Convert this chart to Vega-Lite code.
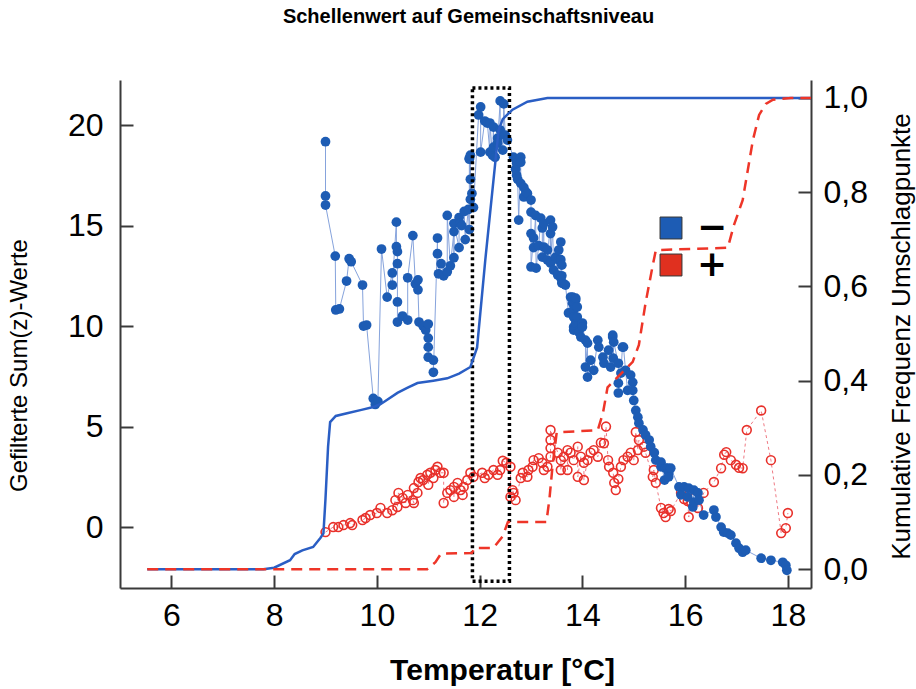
{
  "$schema": "https://vega.github.io/schema/vega-lite/v6.json",
  "width": 691,
  "height": 508,
  "autosize": {"type": "none"},
  "padding": {"left": 120, "top": 80, "right": 105, "bottom": 101},
  "background": "white",
  "title": {"text": "Schellenwert auf Gemeinschaftsniveau", "font": "Liberation Sans", "fontSize": 20, "fontWeight": "bold", "color": "#000", "anchor": "middle", "offset": 50, "dx": 3},
  "config": {
    "view": {"stroke": null},
    "axis": {"grid": false, "domainColor": "#3a3a3a", "domainWidth": 2, "tickColor": "#3a3a3a", "tickWidth": 2, "tickSize": -13, "labelFont": "Liberation Sans", "labelFontSize": 32, "labelColor": "#000", "titleFont": "Liberation Sans", "titleColor": "#000", "labelOverlap": false, "labelFlush": false}
  },
  "datasets": {
    "minus": [
      {"x":9.0,"y":19.17},{"x":9.0,"y":16.47},{"x":9.0,"y":16.02},{"x":9.19,"y":13.48},{"x":9.2,"y":10.8},{"x":9.27,"y":10.85},{"x":9.41,"y":12.24},{"x":9.46,"y":13.35},{"x":9.5,"y":13.2},{"x":9.72,"y":12.04},{"x":9.74,"y":10.0},{"x":9.8,"y":10.05},{"x":9.93,"y":6.4},{"x":9.97,"y":6.1},{"x":10.02,"y":6.25},{"x":10.09,"y":13.83},{"x":10.2,"y":11.44},{"x":10.3,"y":12.64},{"x":10.3,"y":12.04},{"x":10.38,"y":15.17},{"x":10.38,"y":13.95},{"x":10.4,"y":13.7},{"x":10.4,"y":13.1},{"x":10.4,"y":11.2},{"x":10.4,"y":10.2},{"x":10.5,"y":10.5},{"x":10.6,"y":10.3},{"x":10.6,"y":12.4},{"x":10.7,"y":14.5},{"x":10.75,"y":12.1},{"x":10.8,"y":12.3},{"x":10.8,"y":11.8},{"x":10.82,"y":10.2},{"x":10.9,"y":10.0},{"x":10.95,"y":9.8},{"x":11.0,"y":10.1},{"x":11.0,"y":9.4},{"x":11.0,"y":8.95},{"x":11.0,"y":8.45},{"x":11.1,"y":8.3},{"x":11.1,"y":7.7},{"x":11.18,"y":14.38},{"x":11.18,"y":13.6},{"x":11.2,"y":12.6},{"x":11.25,"y":13.1},{"x":11.3,"y":12.5},{"x":11.37,"y":12.7},{"x":11.37,"y":15.5},{"x":11.43,"y":13.0},{"x":11.5,"y":14.7},{"x":11.5,"y":13.4},{"x":11.5,"y":15.1},{"x":11.6,"y":13.9},{"x":11.6,"y":15.4},{"x":11.62,"y":15.1},{"x":11.65,"y":15.0},{"x":11.7,"y":15.7},{"x":11.72,"y":14.3},{"x":11.78,"y":15.8},{"x":11.8,"y":14.8},{"x":11.8,"y":18.3},{"x":11.8,"y":18.35},{"x":11.82,"y":16.3},{"x":11.82,"y":18.5},{"x":11.82,"y":17.3},{"x":11.85,"y":16.6},{"x":11.88,"y":15.9},{"x":11.98,"y":20.5},{"x":12.02,"y":20.9},{"x":12.02,"y":18.65},{"x":12.1,"y":20.2},{"x":12.15,"y":20.1},{"x":12.2,"y":18.65},{"x":12.2,"y":20.1},{"x":12.25,"y":18.5},{"x":12.27,"y":19.9},{"x":12.27,"y":18.9},{"x":12.3,"y":18.4},{"x":12.35,"y":19.35},{"x":12.35,"y":19.1},{"x":12.4,"y":21.2},{"x":12.4,"y":19.75},{"x":12.45,"y":18.75},{"x":12.47,"y":21.05},{"x":12.5,"y":19.5},{"x":12.54,"y":19.25},{"x":12.66,"y":18.4},{"x":12.7,"y":17.8},{"x":12.72,"y":18.1},{"x":12.72,"y":17.5},{"x":12.74,"y":17.3},{"x":12.76,"y":15.27},{"x":12.8,"y":18.4},{"x":12.8,"y":18.15},{"x":12.8,"y":17.1},{"x":12.86,"y":16.9},{"x":12.86,"y":16.42},{"x":12.9,"y":16.67},{"x":12.93,"y":16.6},{"x":13.0,"y":16.27},{"x":13.0,"y":15.67},{"x":13.0,"y":14.6},{"x":13.0,"y":12.94},{"x":13.05,"y":14.38},{"x":13.05,"y":13.9},{"x":13.09,"y":15.5},{"x":13.1,"y":12.88},{"x":13.15,"y":14.0},{"x":13.19,"y":15.37},{"x":13.22,"y":14.88},{"x":13.22,"y":13.43},{"x":13.25,"y":15.1},{"x":13.25,"y":13.93},{"x":13.32,"y":13.78},{"x":13.32,"y":13.28},{"x":13.38,"y":15.27},{"x":13.38,"y":14.6},{"x":13.38,"y":13.13},{"x":13.42,"y":14.93},{"x":13.44,"y":12.78},{"x":13.48,"y":13.43},{"x":13.52,"y":12.54},{"x":13.54,"y":13.78},{"x":13.54,"y":13.28},{"x":13.58,"y":14.18},{"x":13.58,"y":13.3},{"x":13.58,"y":12.39},{"x":13.6,"y":13.03},{"x":13.6,"y":12.14},{"x":13.6,"y":12.5},{"x":13.64,"y":12.1},{"x":13.67,"y":12.04},{"x":13.73,"y":10.65},{"x":13.77,"y":11.44},{"x":13.81,"y":11.14},{"x":13.81,"y":11.44},{"x":13.83,"y":10.8},{"x":13.83,"y":10.45},{"x":13.83,"y":9.95},{"x":13.83,"y":9.8},{"x":13.87,"y":11.3},{"x":13.87,"y":11.39},{"x":13.87,"y":10.15},{"x":13.9,"y":10.95},{"x":13.9,"y":10.45},{"x":13.93,"y":9.8},{"x":13.93,"y":9.7},{"x":13.97,"y":9.45},{"x":14.0,"y":10.15},{"x":14.0,"y":9.95},{"x":14.06,"y":9.3},{"x":14.06,"y":7.96},{"x":14.1,"y":9.15},{"x":14.1,"y":7.46},{"x":14.16,"y":8.3},{"x":14.22,"y":7.8},{"x":14.3,"y":9.3},{"x":14.32,"y":8.95},{"x":14.4,"y":8.45},{"x":14.42,"y":8.15},{"x":14.51,"y":8.8},{"x":14.55,"y":7.96},{"x":14.59,"y":9.45},{"x":14.59,"y":9.55},{"x":14.6,"y":8.4},{"x":14.61,"y":9.2},{"x":14.7,"y":8.15},{"x":14.7,"y":7.16},{"x":14.7,"y":6.67},{"x":14.75,"y":7.66},{"x":14.78,"y":8.95},{"x":14.8,"y":8.95},{"x":14.84,"y":7.8},{"x":14.88,"y":6.8},{"x":14.94,"y":7.56},{"x":14.98,"y":7.2},{"x":14.98,"y":6.8},{"x":15.0,"y":6.3},{"x":15.04,"y":5.8},{"x":15.08,"y":5.47},{"x":15.1,"y":5.17},{"x":15.18,"y":4.83},{"x":15.23,"y":4.58},{"x":15.3,"y":4.33},{"x":15.33,"y":4.0},{"x":15.4,"y":3.7},{"x":15.43,"y":3.33},{"x":15.53,"y":3.0},{"x":15.53,"y":3.23},{"x":15.6,"y":2.34},{"x":15.62,"y":2.93},{"x":15.66,"y":2.93},{"x":15.68,"y":2.7},{"x":15.68,"y":2.5},{"x":15.72,"y":2.93},{"x":15.88,"y":2.0},{"x":15.92,"y":1.6},{"x":15.98,"y":2.0},{"x":16.05,"y":1.5},{"x":16.07,"y":1.94},{"x":16.15,"y":1.0},{"x":16.17,"y":1.84},{"x":16.17,"y":1.24},{"x":16.25,"y":1.7},{"x":16.27,"y":1.34},{"x":16.36,"y":0.6},{"x":16.56,"y":0.85},{"x":16.6,"y":0.5},{"x":16.7,"y":0.0},{"x":16.75,"y":-0.25},{"x":16.83,"y":-0.3},{"x":16.89,"y":-0.4},{"x":16.99,"y":-0.8},{"x":17.05,"y":-1.05},{"x":17.12,"y":-1.25},{"x":17.18,"y":-1.15},{"x":17.48,"y":-1.55},{"x":17.67,"y":-1.65},{"x":17.9,"y":-1.75},{"x":17.96,"y":-1.9},{"x":17.98,"y":-2.15}
    ],
    "plus": [
      {"x":9.0,"y":-0.25},{"x":9.15,"y":0.0},{"x":9.25,"y":0.0},{"x":9.35,"y":0.1},{"x":9.48,"y":0.2},{"x":9.52,"y":0.1},{"x":9.72,"y":0.35},{"x":9.78,"y":0.45},{"x":9.87,"y":0.6},{"x":10.0,"y":0.7},{"x":10.07,"y":0.95},{"x":10.2,"y":0.7},{"x":10.3,"y":0.84},{"x":10.36,"y":1.34},{"x":10.4,"y":1.0},{"x":10.42,"y":1.7},{"x":10.5,"y":1.45},{"x":10.56,"y":1.2},{"x":10.6,"y":1.6},{"x":10.7,"y":1.34},{"x":10.72,"y":1.2},{"x":10.72,"y":1.94},{"x":10.79,"y":1.7},{"x":10.81,"y":2.24},{"x":10.85,"y":2.44},{"x":10.9,"y":2.34},{"x":10.98,"y":2.6},{"x":11.0,"y":2.1},{"x":11.04,"y":2.7},{"x":11.1,"y":2.44},{"x":11.14,"y":2.84},{"x":11.18,"y":3.0},{"x":11.24,"y":2.7},{"x":11.3,"y":2.7},{"x":11.3,"y":1.2},{"x":11.37,"y":1.7},{"x":11.43,"y":1.84},{"x":11.5,"y":2.0},{"x":11.5,"y":1.5},{"x":11.57,"y":2.2},{"x":11.63,"y":1.84},{"x":11.67,"y":1.6},{"x":11.69,"y":2.0},{"x":11.76,"y":2.34},{"x":11.82,"y":2.7},{"x":11.88,"y":2.5},{"x":12.05,"y":2.7},{"x":12.1,"y":2.44},{"x":12.17,"y":2.6},{"x":12.27,"y":2.84},{"x":12.35,"y":2.6},{"x":12.4,"y":2.84},{"x":12.45,"y":3.3},{"x":12.52,"y":3.2},{"x":12.6,"y":3.0},{"x":12.6,"y":1.5},{"x":12.64,"y":1.84},{"x":12.66,"y":1.7},{"x":12.7,"y":1.34},{"x":12.8,"y":2.44},{"x":12.84,"y":2.7},{"x":12.93,"y":2.5},{"x":12.95,"y":2.84},{"x":13.03,"y":3.0},{"x":13.05,"y":3.33},{"x":13.15,"y":3.43},{"x":13.22,"y":3.2},{"x":13.25,"y":2.84},{"x":13.32,"y":3.0},{"x":13.38,"y":3.5},{"x":13.38,"y":3.93},{"x":13.38,"y":4.33},{"x":13.38,"y":4.83},{"x":13.52,"y":3.7},{"x":13.58,"y":3.33},{"x":13.58,"y":2.84},{"x":13.64,"y":3.5},{"x":13.71,"y":3.83},{"x":13.71,"y":2.84},{"x":13.77,"y":3.7},{"x":13.83,"y":3.33},{"x":13.91,"y":4.0},{"x":13.91,"y":2.5},{"x":13.97,"y":3.5},{"x":14.03,"y":3.2},{"x":14.03,"y":2.34},{"x":14.1,"y":3.33},{"x":14.16,"y":3.7},{"x":14.22,"y":3.83},{"x":14.3,"y":3.5},{"x":14.36,"y":4.2},{"x":14.42,"y":4.17},{"x":14.46,"y":5.0},{"x":14.5,"y":3.33},{"x":14.52,"y":3.0},{"x":14.6,"y":2.7},{"x":14.62,"y":2.2},{"x":14.65,"y":1.84},{"x":14.7,"y":2.4},{"x":14.75,"y":3.0},{"x":14.8,"y":3.33},{"x":14.88,"y":3.5},{"x":14.94,"y":3.7},{"x":15.0,"y":3.33},{"x":15.04,"y":4.73},{"x":15.08,"y":3.83},{"x":15.1,"y":4.33},{"x":15.2,"y":4.0},{"x":15.23,"y":3.7},{"x":15.37,"y":2.5},{"x":15.39,"y":2.84},{"x":15.43,"y":2.2},{"x":15.53,"y":0.95},{"x":15.58,"y":0.7},{"x":15.62,"y":0.5},{"x":15.68,"y":0.9},{"x":15.72,"y":0.8},{"x":15.92,"y":1.7},{"x":15.98,"y":1.4},{"x":16.05,"y":1.3},{"x":16.07,"y":0.5},{"x":16.12,"y":1.2},{"x":16.2,"y":1.5},{"x":16.25,"y":0.95},{"x":16.36,"y":1.7},{"x":16.56,"y":2.24},{"x":16.7,"y":2.93},{"x":16.76,"y":3.6},{"x":16.8,"y":3.73},{"x":16.89,"y":3.33},{"x":16.99,"y":3.1},{"x":17.05,"y":2.95},{"x":17.12,"y":2.93},{"x":17.2,"y":4.83},{"x":17.48,"y":5.8},{"x":17.67,"y":3.33},{"x":17.87,"y":-0.3},{"x":17.96,"y":-0.05},{"x":18.0,"y":0.7}
    ],
    "cumMinus": [
      {"x":5.53,"c":0},{"x":7.79,"c":0},{"x":8.0,"c":0.003},{"x":8.31,"c":0.019},{"x":8.4,"c":0.032},{"x":8.55,"c":0.04},{"x":8.76,"c":0.047},{"x":8.9,"c":0.066},{"x":8.96,"c":0.076},{"x":9.0,"c":0.15},{"x":9.05,"c":0.26},{"x":9.09,"c":0.312},{"x":9.2,"c":0.325},{"x":9.42,"c":0.331},{"x":9.7,"c":0.338},{"x":9.93,"c":0.344},{"x":10.1,"c":0.352},{"x":10.4,"c":0.374},{"x":10.6,"c":0.385},{"x":10.79,"c":0.395},{"x":11.1,"c":0.4},{"x":11.37,"c":0.405},{"x":11.6,"c":0.415},{"x":11.82,"c":0.429},{"x":11.95,"c":0.47},{"x":12.11,"c":0.656},{"x":12.27,"c":0.826},{"x":12.37,"c":0.932},{"x":12.45,"c":0.955},{"x":12.64,"c":0.975},{"x":12.93,"c":0.992},{"x":13.32,"c":1.0},{"x":18.45,"c":1.0}
    ],
    "cumPlus": [
      {"x":5.53,"c":0},{"x":10.98,"c":0},{"x":11.14,"c":0.015},{"x":11.25,"c":0.033},{"x":11.85,"c":0.034},{"x":11.9,"c":0.045},{"x":12.27,"c":0.045},{"x":12.45,"c":0.07},{"x":12.55,"c":0.1},{"x":13.3,"c":0.1},{"x":13.36,"c":0.15},{"x":13.42,"c":0.22},{"x":13.5,"c":0.29},{"x":14.3,"c":0.295},{"x":14.4,"c":0.331},{"x":14.49,"c":0.386},{"x":14.98,"c":0.44},{"x":15.1,"c":0.476},{"x":15.23,"c":0.565},{"x":15.37,"c":0.645},{"x":15.43,"c":0.677},{"x":16.83,"c":0.682},{"x":16.95,"c":0.73},{"x":17.12,"c":0.783},{"x":17.22,"c":0.847},{"x":17.32,"c":0.911},{"x":17.44,"c":0.964},{"x":17.57,"c":0.987},{"x":17.71,"c":0.996},{"x":18.06,"c":1.0},{"x":18.45,"c":1.0}
    ],
    "box": [{"x": 11.86, "xe": 12.58, "y": 21.84, "ye": -2.69}],
    "legend": [{"sign": "−"}, {"sign": "+"}]
  },
  "encoding": {
    "x": {"field": "x", "type": "quantitative", "scale": {"domain": [5, 18.45], "nice": false, "zero": false},
      "axis": {"values": [6, 8, 10, 12, 14, 16, 18], "labelPadding": 25, "title": "Temperatur [°C]", "titleFontSize": 30, "titleFontWeight": "bold", "titleX": 382, "titleY": 67}}
  },
  "layer": [
    {
      "encoding": {
        "y": {"field": "y", "type": "quantitative", "scale": {"domain": [-3.03, 22.24], "nice": false, "zero": false},
          "axis": {"orient": "left", "values": [0, 5, 10, 15, 20], "labelPadding": 30, "title": "Gefilterte Sum(z)-Werte", "titleFontSize": 24, "titleFontWeight": "normal", "titleX": -89, "titleY": 285}}
      },
      "layer": [
        {"data": {"name": "minus"}, "mark": {"type": "line", "color": "#86a3dc", "strokeWidth": 1}, "encoding": {"order": {"field": "x", "type": "quantitative"}}},
        {"data": {"name": "plus"}, "mark": {"type": "line", "color": "#ef7a84", "strokeWidth": 1, "strokeDash": [3, 3]}, "encoding": {"order": {"field": "x", "type": "quantitative"}}},
        {"data": {"name": "plus"}, "mark": {"type": "point", "shape": "circle", "filled": false, "color": "#e8302a", "strokeWidth": 1.6, "size": 78, "opacity": 1}},
        {"data": {"name": "minus"}, "mark": {"type": "point", "shape": "circle", "filled": true, "color": "#1d5cb4", "size": 95, "opacity": 1}},
        {"data": {"name": "box"}, "mark": {"type": "rect", "filled": false, "fill": null, "stroke": "#000", "strokeWidth": 3.5, "strokeDash": [3, 3]}, "encoding": {"x2": {"field": "xe"}, "y2": {"field": "ye"}}},
        {"data": {"name": "legend"}, "mark": {"type": "square", "filled": true, "opacity": 0},
          "encoding": {"x": {"value": 0}, "y": {"value": 0},
            "fill": {"field": "sign", "type": "nominal", "scale": {"domain": ["−", "+"], "range": ["#1d5cb4", "#e0301f"]},
              "legend": {"orient": "none", "legendX": 533, "legendY": 130, "title": null, "symbolType": "square", "symbolSize": 480, "symbolOpacity": 1, "symbolStrokeColor": "#333", "symbolStrokeWidth": 1, "labelFont": "DejaVu Sans", "labelFontWeight": "bold", "labelFontSize": 36, "labelColor": "#000", "labelOffset": 8, "rowPadding": 1, "padding": 0}}}}
      ]
    },
    {
      "encoding": {
        "y": {"field": "c", "type": "quantitative", "scale": {"domain": [-0.04, 1.038], "nice": false, "zero": false},
          "axis": {"orient": "right", "values": [0, 0.2, 0.4, 0.6, 0.8, 1.0], "labelExpr": "replace(format(datum.value, '.1f'), '.', ',')", "labelPadding": 25, "title": "Kumulative Frequenz Umschlagpunkte", "titleFontSize": 26, "titleFontWeight": "normal", "titleAngle": 270, "titleBaseline": "top", "titleX": 77, "titleY": 256}}
      },
      "layer": [
        {"data": {"name": "cumMinus"}, "mark": {"type": "line", "color": "#2a5ec4", "strokeWidth": 2.5}},
        {"data": {"name": "cumPlus"}, "mark": {"type": "line", "color": "#ee3528", "strokeWidth": 2.5, "strokeDash": [11, 7]}}
      ]
    }
  ],
  "resolve": {"scale": {"y": "independent"}}
}
